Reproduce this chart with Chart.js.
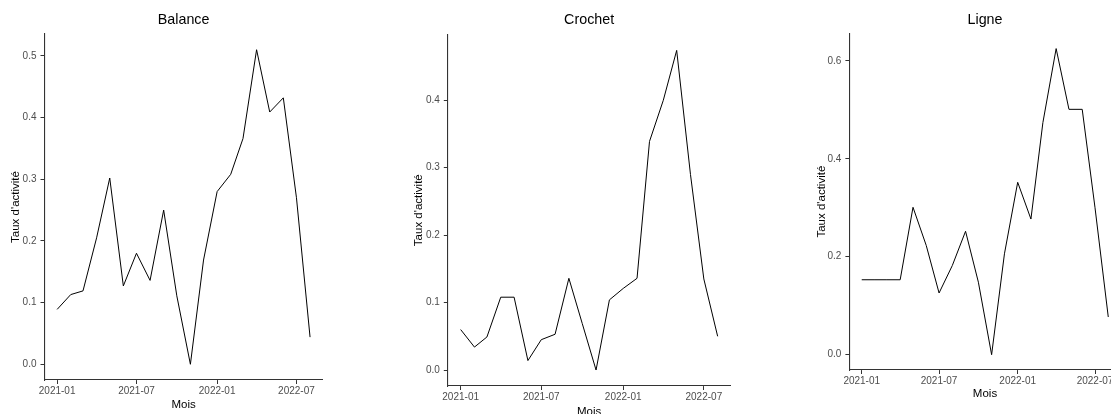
<!DOCTYPE html>
<html>
<head>
<meta charset="utf-8">
<script src="https://cdn.jsdelivr.net/npm/chart.js@4/dist/chart.umd.min.js"></script>
<style>
  html, body { margin: 0; padding: 0; background: #fff; }
  body { width: 1111px; height: 414px; overflow: hidden; position: relative; }
  canvas { position: absolute; top: 0; }
</style>
</head>
<body>
<canvas id="c-balance"></canvas>
<canvas id="c-crochet"></canvas>
<canvas id="c-ligne"></canvas>
<script>
// Monthly activity rate per item, January 2021 to August 2022
const months = ['2021-01','2021-02','2021-03','2021-04','2021-05','2021-06','2021-07','2021-08','2021-09','2021-10',
                '2021-11','2021-12','2022-01','2022-02','2022-03','2022-04','2022-05','2022-06','2022-07','2022-08'];

const balance = [0.089, 0.113, 0.119, 0.205, 0.302, 0.127, 0.180, 0.136, 0.250, 0.111,
                 0.000, 0.169, 0.280, 0.308, 0.366, 0.510, 0.409, 0.432, 0.270, 0.044];
const crochet = [0.060, 0.034, 0.049, 0.108, 0.108, 0.014, 0.045, 0.053, 0.136, 0.069,
                 0.000, 0.104, 0.121, 0.136, 0.339, 0.400, 0.474, 0.290, 0.135, 0.050];
const ligne   = [0.153, 0.153, 0.153, 0.153, 0.301, 0.223, 0.126, 0.182, 0.252, 0.148,
                 0.000, 0.206, 0.352, 0.277, 0.474, 0.625, 0.501, 0.501, 0.300, 0.077];

const xTickLabels = ['2021-01', '2021-07', '2022-01', '2022-07'];
const yTicksBalance = [0.0, 0.1, 0.2, 0.3, 0.4, 0.5];
const yTicksCrochet = [0.0, 0.1, 0.2, 0.3, 0.4];
const yTicksLigne   = [0.0, 0.2, 0.4, 0.6];

const titles = ['Balance', 'Crochet', 'Ligne'];
const xTitle = 'Mois';
const yTitle = "Taux d'activité";

// date string "YYYY-MM" -> day number, so the x axis spaces months by their real length
function monthToDay(m) {
  const [y, mo] = m.split('-').map(Number);
  return Date.UTC(y, mo - 1, 1) / 86400000;
}

Chart.defaults.font.family = "'Liberation Sans', Arial, Helvetica, sans-serif";
Chart.defaults.animation = false;

const FONT_TICK = { size: 10, lineHeight: 1.2 };
const FONT_AXIS = { size: 11.5, lineHeight: 1.2 };
const FONT_TITLE = { size: 14.3, lineHeight: 1.2, weight: 'normal' };
const CANVAS_H = 440;

// panel geometry in page pixels
const panels = [
  { id: 'c-balance', x0: 0,   w: 360, left: 44.5,  right: 322.7,  top: 34.0, bottom: 380, yTitleX: 16.0,  xTitleY: 405.0 },
  { id: 'c-crochet', x0: 380, w: 370, left: 447.8, right: 730.5,  top: 34.4, bottom: 386, yTitleX: 419.0, xTitleY: 411.5 },
  { id: 'c-ligne',   x0: 760, w: 380, left: 849.4, right: 1120.6, top: 33.3, bottom: 370, yTitleX: 821.7, xTitleY: 394.3 }
];

function makePanel(geo, title, values, yTicks) {
  const canvas = document.getElementById(geo.id);
  canvas.width = geo.w;
  canvas.height = CANVAS_H;
  canvas.style.left = geo.x0 + 'px';
  canvas.style.width = geo.w + 'px';
  canvas.style.height = CANVAS_H + 'px';

  const xs = months.map(monthToDay);
  const xMin = xs[0], xMax = xs[xs.length - 1];
  const xPad = (xMax - xMin) * 0.05;
  const yMin = Math.min(0, ...values), yMax = Math.max(...values);
  const yPad = (yMax - yMin) * 0.05;
  const xTickValues = xTickLabels.map(monthToDay);

  const titleLH = FONT_TITLE.size * FONT_TITLE.lineHeight;
  const axisLH = FONT_AXIS.size * FONT_AXIS.lineHeight;
  const titleTopPad = 20.5 - titleLH / 2;
  const titleBottomPad = geo.top - titleTopPad - titleLH;

  return new Chart(canvas, {
    type: 'line',
    data: {
      datasets: [{
        data: xs.map((x, i) => ({ x: x, y: values[i] })),
        borderColor: '#000000',
        borderWidth: 1,
        pointRadius: 0,
        pointHoverRadius: 0,
        tension: 0,
        fill: false
      }]
    },
    options: {
      responsive: false,
      devicePixelRatio: 1,
      events: [],
      layout: { padding: { left: 0, top: 0, right: geo.x0 + geo.w - geo.right, bottom: 0 } },
      plugins: {
        legend: { display: false },
        tooltip: { enabled: false },
        title: {
          display: true,
          text: title,
          fullSize: false,
          color: '#000000',
          font: FONT_TITLE,
          padding: { top: titleTopPad, bottom: titleBottomPad }
        }
      },
      scales: {
        x: {
          type: 'linear',
          min: xMin - xPad,
          max: xMax + xPad,
          afterBuildTicks: (scale) => { scale.ticks = xTickValues.map(v => ({ value: v })); },
          afterFit: (scale) => { scale.height = CANVAS_H - geo.bottom; },
          ticks: {
            autoSkip: false,
            maxRotation: 0,
            minRotation: 0,
            padding: 1,
            color: '#4D4D4D',
            font: FONT_TICK,
            callback: (v, i) => xTickLabels[i]
          },
          grid: { display: true, drawOnChartArea: false, drawTicks: true, tickLength: 4, color: '#333333', lineWidth: 1 },
          border: { display: true, color: '#333333', width: 1.1 },
          title: {
            display: true,
            text: xTitle,
            color: '#000000',
            font: FONT_AXIS,
            padding: { top: 0, bottom: CANVAS_H - geo.xTitleY - axisLH / 2 }
          }
        },
        y: {
          type: 'linear',
          min: yMin - yPad,
          max: yMax + yPad,
          afterBuildTicks: (scale) => { scale.ticks = yTicks.map(v => ({ value: v })); },
          afterFit: (scale) => { scale.width = geo.left - geo.x0; },
          ticks: {
            padding: 4,
            color: '#4D4D4D',
            font: FONT_TICK,
            callback: (v) => Number(v).toFixed(1)
          },
          grid: { display: true, drawOnChartArea: false, drawTicks: true, tickLength: 4, color: '#333333', lineWidth: 1 },
          border: { display: true, color: '#333333', width: 1.1 },
          title: {
            display: true,
            text: yTitle,
            color: '#000000',
            font: FONT_AXIS,
            padding: { top: geo.yTitleX - geo.x0 - axisLH / 2, bottom: 0 }
          }
        }
      }
    }
  });
}

makePanel(panels[0], titles[0], balance, yTicksBalance);
makePanel(panels[1], titles[1], crochet, yTicksCrochet);
makePanel(panels[2], titles[2], ligne, yTicksLigne);
</script>
</body>
</html>
